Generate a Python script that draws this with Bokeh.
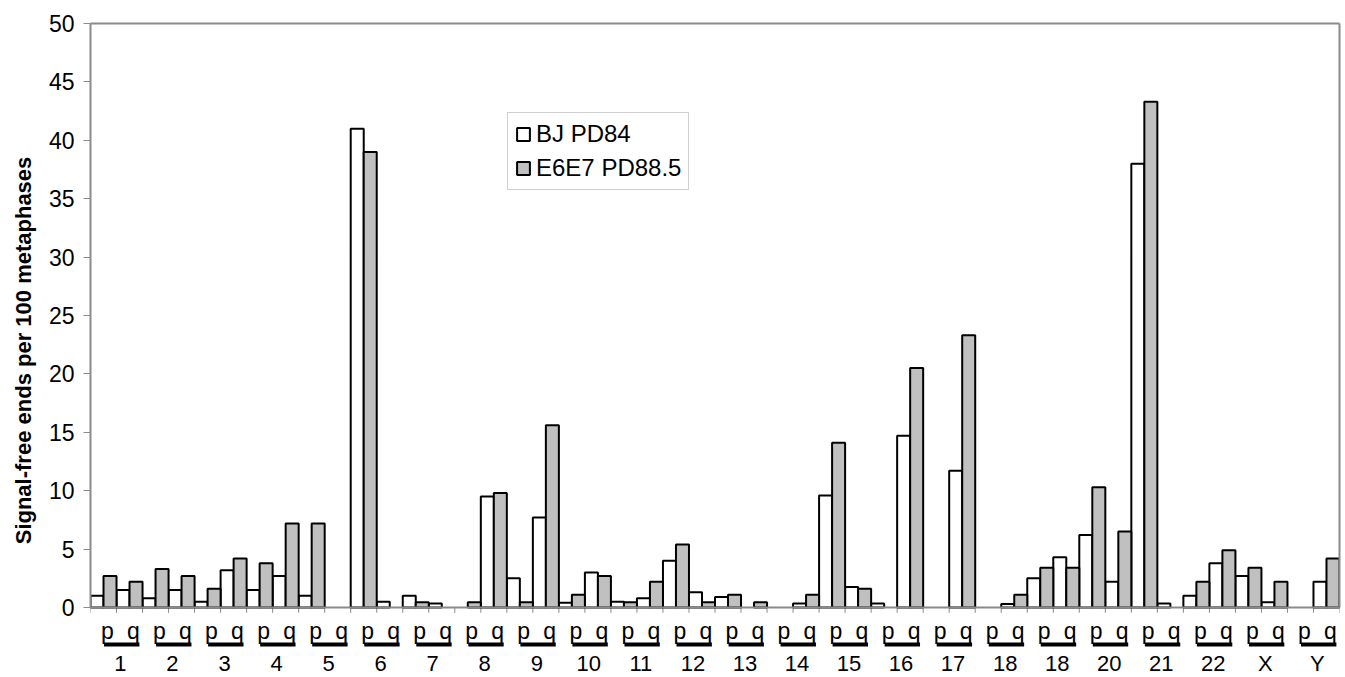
from bokeh.plotting import figure
from bokeh.models import (ColumnDataSource, Range1d, LinearAxis, FixedTicker, Span, Legend, LegendItem)
from bokeh.core.properties import value
from bokeh.embed import file_html
from bokeh.resources import INLINE

# ---- data ----
chromosomes = ["1", "2", "3", "4", "5", "6", "7", "8", "9", "10", "11", "12",
               "13", "14", "15", "16", "17", "18", "18", "20", "21", "22", "X", "Y"]
arms = ["p", "q"]
series_names = ["BJ PD84", "E6E7 PD88.5"]

# values per arm in order 1p,1q,2p,2q,...,Yp,Yq
bj_pd84 = [1.0, 1.5, 0.8, 1.5, 0.5, 3.2, 1.5, 2.7, 1.0, 0.0,
           41.0, 0.5, 1.0, 0.35, 0.0, 9.5, 2.5, 7.7, 0.4, 3.0,
           0.5, 0.8, 4.0, 1.3, 0.9, 0.0, 0.0, 0.35, 9.6, 1.75,
           0.35, 14.7, 0.0, 11.7, 0.0, 0.3, 2.5, 4.3, 6.2, 2.2,
           38.0, 0.35, 1.0, 3.8, 2.7, 0.45, 0.0, 2.2]
e6e7_pd885 = [2.7, 2.2, 3.3, 2.7, 1.6, 4.2, 3.8, 7.2, 7.2, 0.0,
              39.0, 0.0, 0.45, 0.0, 0.45, 9.8, 0.45, 15.6, 1.1, 2.7,
              0.45, 2.2, 5.4, 0.45, 1.1, 0.45, 0.0, 1.1, 14.1, 1.6,
              0.0, 20.5, 0.0, 23.3, 0.0, 1.1, 3.4, 3.4, 10.3, 6.5,
              43.3, 0.0, 2.2, 4.9, 3.4, 2.2, 0.0, 4.2]
y_ticks = [0, 5, 10, 15, 20, 25, 30, 35, 40, 45, 50]

FONT = "Liberation Sans"
n_cat = len(chromosomes) * len(arms)

# ---- figure ----
p = figure(frame_width=1249, frame_height=654, min_border_left=90, min_border_right=6,
           min_border_top=23, min_border_bottom=0,
           x_range=Range1d(0, n_cat), y_range=Range1d(-5.99, 50),
           output_backend="svg", toolbar_location=None,
           x_axis_location=None, y_axis_location=None)
p.xgrid.visible = False
p.ygrid.visible = False
p.outline_line_color = None
p.background_fill_color = "white"
p.border_fill_color = "white"

# left axis
yax = LinearAxis(bounds=(0, 50), ticker=FixedTicker(ticks=y_ticks),
                 axis_label="Signal-free ends per 100 metaphases")
yax.axis_line_color = "#8a8a8a"
yax.axis_line_width = 2
yax.major_tick_line_color = "#8a8a8a"
yax.major_tick_line_width = 1
yax.major_tick_out = 7
yax.major_tick_in = 0
yax.minor_tick_line_color = None
yax.major_label_standoff = 9
yax.major_label_text_font = FONT
yax.major_label_text_font_size = "23px"
yax.major_label_text_color = "black"
yax.axis_label_text_font = FONT
yax.axis_label_text_font_size = "22px"
yax.axis_label_text_font_style = "bold"
yax.axis_label_text_color = "black"
yax.axis_label_standoff = 10
p.add_layout(yax, "left")

# top border and right border as bare axes
top = LinearAxis(ticker=FixedTicker(ticks=[]), major_label_text_font_size="0px")
top.axis_line_color = "#8a8a8a"
top.axis_line_width = 2
top.major_tick_line_color = None
top.minor_tick_line_color = None
p.add_layout(top, "above")

right = LinearAxis(bounds=(0, 50), ticker=FixedTicker(ticks=[]), major_label_text_font_size="0px")
right.axis_line_color = "#8a8a8a"
right.axis_line_width = 2
right.major_tick_line_color = None
right.minor_tick_line_color = None
p.add_layout(right, "right")

# baseline
p.add_layout(Span(location=0, dimension="width", line_color="#8a8a8a", line_width=2))

# category boundary ticks
bounds_x = list(range(n_cat + 1))
p.segment(x0=bounds_x, y0=[0] * len(bounds_x), x1=bounds_x, y1=[-0.45] * len(bounds_x),
          line_color="#8a8a8a", line_width=1)

# bars
def bar_source(vals, offset):
    xs = [k + offset for k, v in enumerate(vals) if v > 0]
    ys = [v for v in vals if v > 0]
    return ColumnDataSource(dict(x=xs, top=ys))

r1 = p.vbar(x="x", top="top", bottom=0, width=0.5, source=bar_source(bj_pd84, 0.25),
            fill_color="white", line_color="black", line_width=2)
r2 = p.vbar(x="x", top="top", bottom=0, width=0.5, source=bar_source(e6e7_pd885, 0.75),
            fill_color="#c0c0c0", line_color="black", line_width=2)

# arm labels
arm_x = [2 * i + j + 0.5 + 0.15 for i in range(len(chromosomes)) for j in range(len(arms))]
arm_t = [a for _ in chromosomes for a in arms]
p.text(x=arm_x, y=[-1.97] * len(arm_x), text=arm_t, text_font=value(FONT),
       text_font_size="23px", text_align="center", text_baseline="middle", text_color="black")

# underline bars
cx = [2 * i + 1 for i in range(len(chromosomes))]
p.segment(x0=[c + 0.2 - 0.68 for c in cx], y0=[-3.17] * len(cx),
          x1=[c + 0.2 + 0.68 for c in cx], y1=[-3.17] * len(cx),
          line_color="black", line_width=4)

# chromosome labels
p.text(x=[c + 0.15 for c in cx], y=[-4.8] * len(cx), text=chromosomes, text_font=value(FONT),
       text_font_size="22px", text_align="center", text_baseline="middle", text_color="black")

# legend
legend = Legend(items=[LegendItem(label=series_names[0], renderers=[r1]),
                       LegendItem(label=series_names[1], renderers=[r2])],
                location=(417, 487))
legend.label_text_font = FONT
legend.label_text_font_size = "24px"
legend.label_text_color = "black"
legend.glyph_width = 16
legend.glyph_height = 16
legend.label_standoff = 5
legend.padding = 7
legend.spacing = 6
legend.margin = 0
legend.border_line_color = "#a0a0a0"
legend.border_line_width = 1
legend.background_fill_color = "white"
legend.background_fill_alpha = 1
p.add_layout(legend, "center")

open("out.html", "w").write(file_html(p, INLINE))
